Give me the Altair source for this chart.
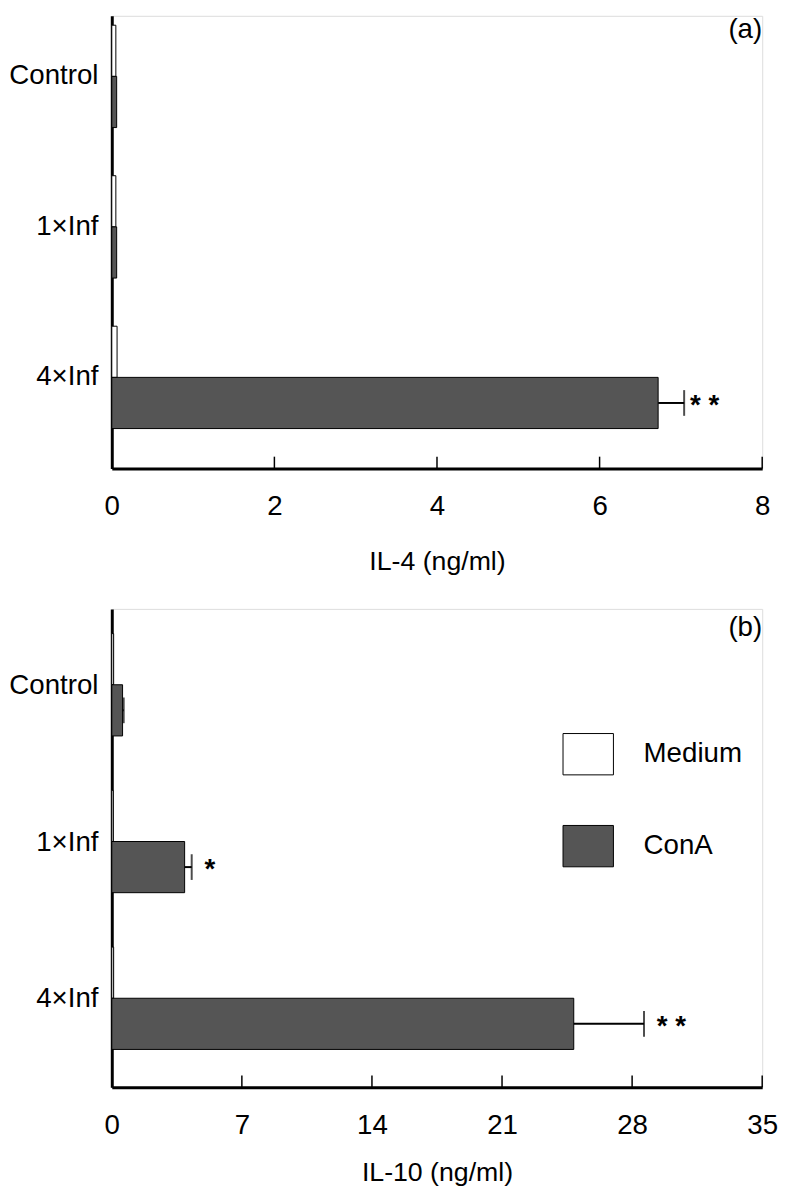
import altair as alt
import pandas as pd

FONT = "Liberation Sans"

groups = ["Control", "1×Inf", "4×Inf"]
conds = ["Medium", "ConA"]

# Panel (a): IL-4 (ng/ml)
il4_medium = [0.05, 0.05, 0.065]
il4_cona = [0.06, 0.06, 6.72]
il4_err = [None, None, 7.04]
il4_stars = ["", "", "* *"]
il4_ticks = [0, 2, 4, 6, 8]

# Panel (b): IL-10 (ng/ml)
il10_medium = [0.1, 0.08, 0.1]
il10_cona = [0.58, 3.92, 24.86]
il10_err = [0.64, 4.3, 28.64]
il10_stars = ["", "*", "* *"]
il10_ticks = [0, 7, 14, 21, 28, 35]

FILLS = ["white", "#555555"]


def bars_df(med, con):
    rows = []
    for g, m, c in zip(groups, med, con):
        rows.append({"group": g, "cond": "Medium", "value": m})
        rows.append({"group": g, "cond": "ConA", "value": c})
    return pd.DataFrame(rows)


def err_df(con, err, stars):
    rows = []
    for g, c, e, s in zip(groups, con, err, stars):
        if e is not None:
            rows.append({"group": g, "cond": "ConA", "value": c, "err": e, "star": s})
    return pd.DataFrame(rows)


def panel(bdf, edf, ticks, xmax, xtitle, tag, tag_y, H, pin, pout, align,
          star_dx, title_pad, legend):
    W = 658
    yscale = alt.Scale(domain=groups, paddingInner=pin, paddingOuter=pout, align=align)
    yaxis = alt.Axis(ticks=False, domainWidth=3, domainColor="black",
                     labelFontSize=28, labelPadding=14, labelColor="black",
                     labelFont=FONT, labelAngle=0)
    yenc = alt.Y("group:N", sort=groups, title=None, scale=yscale, axis=yaxis)
    yoff = alt.YOffset("cond:N", sort=conds, scale=alt.Scale(domain=conds))
    xscale = alt.Scale(domain=[0, xmax], nice=False, zero=True)
    xaxis = alt.Axis(values=ticks, ticks=False, grid=False, domainWidth=3,
                     domainColor="black", labelFontSize=28, labelPadding=25,
                     labelColor="black", labelFont=FONT, titleFont=FONT,
                     titleFontSize=27, titleFontWeight="normal", titlePadding=title_pad,
                     titleColor="black", labelFlush=False, format="d")

    def X(field):
        return alt.X(field, scale=xscale, axis=xaxis, title=xtitle)

    fill = alt.Fill("cond:N", scale=alt.Scale(domain=conds, range=FILLS), legend=legend)
    bars = alt.Chart(bdf).mark_bar(stroke="black", strokeWidth=1).encode(
        x=X("value:Q"), y=yenc, yOffset=yoff, fill=fill)
    whisk = alt.Chart(edf).mark_rule(color="black", strokeWidth=2).encode(
        x=X("value:Q"), x2="err:Q", y=yenc, yOffset=yoff)
    cap = alt.Chart(edf).mark_tick(color="black", thickness=2, size=26, orient="vertical").encode(
        x=X("err:Q"), y=yenc, yOffset=yoff)
    star = alt.Chart(edf).mark_text(align="left", baseline="middle", dx=star_dx, dy=3,
                                    fontSize=28, fontWeight="bold", font=FONT,
                                    color="black").encode(
        x=X("err:Q"), y=yenc, yOffset=yoff, text="star:N")
    tickdf = pd.DataFrame({"t": ticks})
    tk = alt.Chart(tickdf).mark_rule(color="black", strokeWidth=1.5).encode(
        x=X("t:Q"), y=alt.value(H), y2=alt.value(H - 12))
    tagdf = pd.DataFrame({"t": [xmax], "lab": [tag]})
    tg = alt.Chart(tagdf).mark_text(align="right", baseline="middle", fontSize=28,
                                    font=FONT, color="black").encode(
        x=X("t:Q"), y=alt.value(tag_y), text="lab:N")
    return alt.layer(bars, whisk, cap, star, tk, tg).properties(width=W, height=H)


legend_b = alt.Legend(
    title=None, orient="none", legendX=456, legendY=121,
    symbolType="M-1,-0.82H1V0.82H-1Z", symbolSize=2601,
    symbolStrokeColor="black", symbolStrokeWidth=1,
    labelFontSize=28, labelFont=FONT, labelColor="black", labelOffset=30,
    rowPadding=44,
)

pa = panel(bars_df(il4_medium, il4_cona), err_df(il4_cona, il4_err, il4_stars),
           il4_ticks, 8, "IL-4 (ng/ml)", "(a)", 14, 458, 0.32, 0.164, 0.19, 6, 28, None)
pb = panel(bars_df(il10_medium, il10_cona), err_df(il10_cona, il10_err, il10_stars),
           il10_ticks, 35, "IL-10 (ng/ml)", "(b)", 19, 484, 0.332, 0.192, 0.41, 13, 20,
           legend_b)

chart = alt.vconcat(pa, pb, spacing=33, padding=0).resolve_scale(
    fill="independent").resolve_legend(fill="independent").configure_view(
    stroke=None).configure(font=FONT)

chart.save("out.html", embed_options={"renderer": "svg", "actions": False})
